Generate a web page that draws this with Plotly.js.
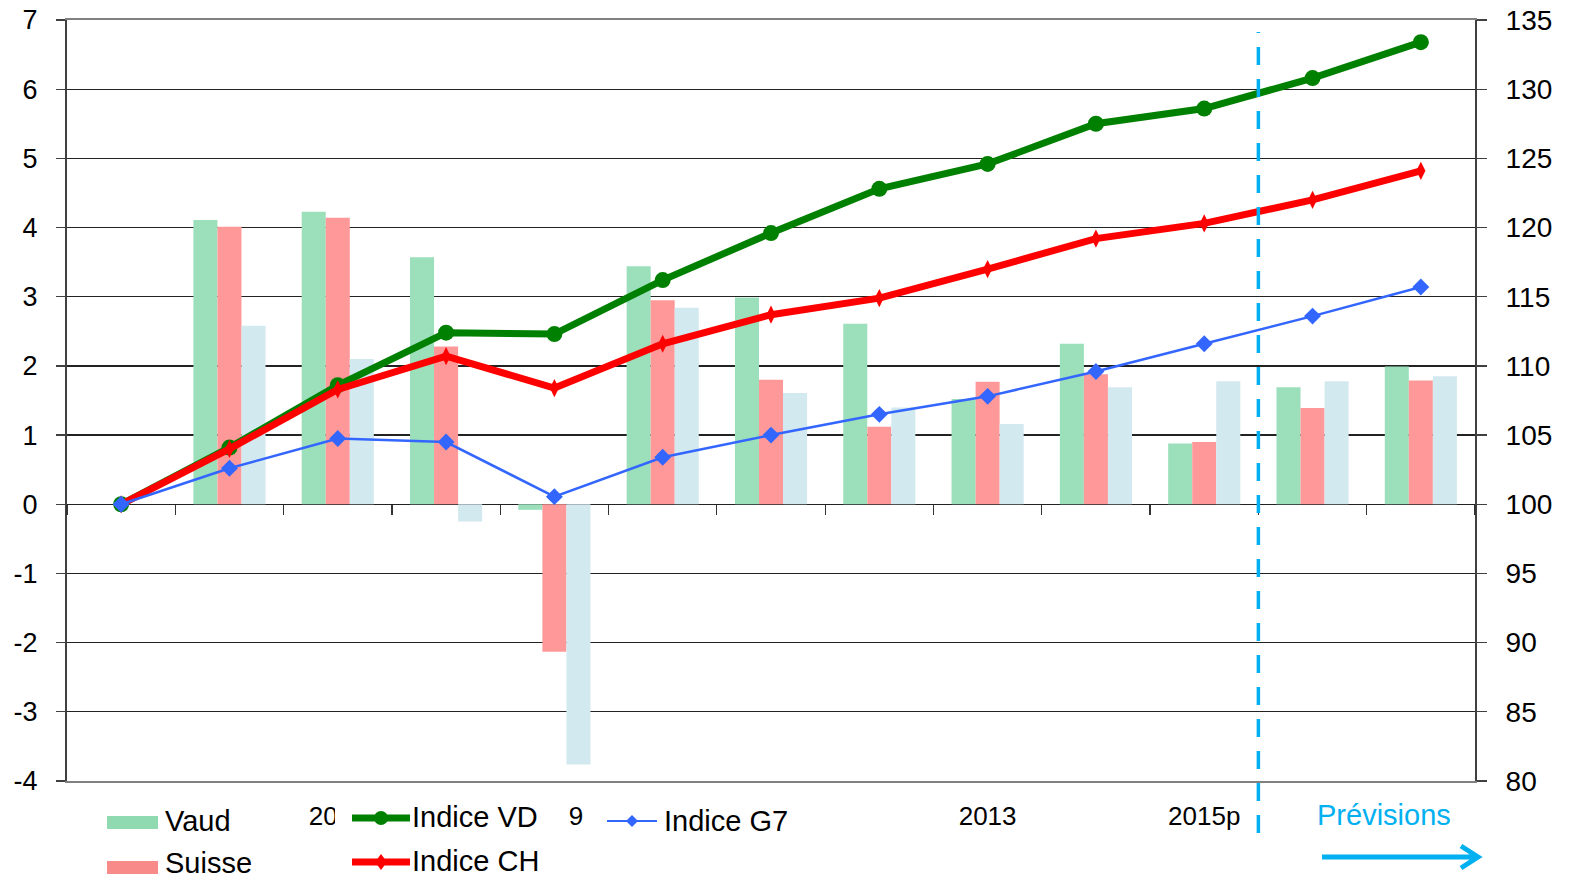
<!DOCTYPE html>
<html>
<head>
<meta charset="utf-8">
<script src="https://cdn.plot.ly/plotly-3.0.1.min.js"></script>
<style>html,body{margin:0;padding:0;background:#fff;}#chart{width:1569px;height:880px;}</style>
</head>
<body>
<div id="chart"></div>
<script>
// ---- data ----
const years = ['2005','2006','2007','2008','2009','2010','2011','2012','2013','2014','2015p','2016p','2017p'];
const labelYears = ['2007','2009','2013','2015p'];   // x labels visible (2007 and 2009 are partly hidden by the legend)
const yLeftTicks = [-4,-3,-2,-1,0,1,2,3,4,5,6,7];
const yLeftText  = ['-4','-3','-2','-1','0','1','2','3','4','5','6','7'];
const vaud   = [null, 4.11, 4.23, 3.57, -0.08, 3.44, 2.99, 2.61, 1.52, 2.32, 0.88, 1.69, 1.99];
const suisse = [null, 4.01, 4.14, 2.28, -2.13, 2.95, 1.80, 1.12, 1.77, 1.88, 0.90, 1.39, 1.79];
const g7     = [null, 2.58, 2.10, -0.25, -3.76, 2.84, 1.61, 1.40, 1.16, 1.69, 1.78, 1.78, 1.85];
const indiceVD = [100, 104.1, 108.6, 112.4, 112.3, 116.2, 119.6, 122.8, 124.6, 127.5, 128.6, 130.8, 133.4];
const indiceCH = [100, 104.0, 108.3, 110.7, 108.4, 111.6, 113.7, 114.9, 117.0, 119.2, 120.3, 122.0, 124.1];
const indiceG7 = [100, 102.6, 104.75, 104.5, 100.55, 103.4, 105.0, 106.5, 107.8, 109.6, 111.6, 113.6, 115.7];
const forecastBoundary = 10.5; // between 2015p and 2016p

// ---- geometry helpers (pixel -> paper) ----
const L = 67, R = 1475, T = 20, B = 781;
const px = x => (x - L) / (R - L);
const py = y => (B - y) / (B - T);

const FONT = 'Liberation Sans, Arial, sans-serif';
const cGreenBar = '#9BDFBB', cRedBar = '#FF9999', cBlueBar = '#D3E9F0';
const cVD = '#008000', cCH = '#FF0000', cG7 = '#3366FF', cPrev = '#00B0F0';

const traces = [
  {type:'bar', x:years, y:vaud, name:'Vaud', marker:{color:cGreenBar, line:{width:0}}, xaxis:'x', yaxis:'y'},
  {type:'bar', x:years, y:suisse, name:'Suisse', marker:{color:cRedBar, line:{width:0}}, xaxis:'x', yaxis:'y'},
  {type:'bar', x:years, y:g7, name:'G7', marker:{color:cBlueBar, line:{width:0}}, xaxis:'x', yaxis:'y'},
  {type:'scatter', mode:'lines+markers', x:years, y:indiceVD, name:'Indice VD', xaxis:'x2', yaxis:'y2',
   line:{color:cVD, width:7}, marker:{symbol:'circle', size:16, color:cVD}, cliponaxis:false},
  {type:'scatter', mode:'lines+markers', x:years, y:indiceCH, name:'Indice CH', xaxis:'x2', yaxis:'y2',
   line:{color:cCH, width:7}, marker:{symbol:'diamond-tall', size:13, color:cCH}, cliponaxis:false},
  {type:'scatter', mode:'lines+markers', x:years, y:indiceG7, name:'Indice G7', xaxis:'x2', yaxis:'y2',
   line:{color:cG7, width:2.5}, marker:{symbol:'diamond', size:13, color:cG7}, cliponaxis:false}
];

function rect(x0,y0,x1,y1,fill){
  return {type:'rect', xref:'paper', yref:'paper', x0:px(x0), x1:px(x1), y0:py(y1), y1:py(y0),
          fillcolor:fill, line:{width:0}, layer:'above'};
}
function hline(x0,x1,y,color,w){
  return {type:'line', xref:'paper', yref:'paper', x0:px(x0), x1:px(x1), y0:py(y), y1:py(y),
          line:{color:color, width:w}, layer:'above'};
}
function diamond(cx,cy,hw,hh,color){
  return {type:'path', xref:'paper', yref:'paper',
    path:`M${px(cx)},${py(cy-hh)} L${px(cx+hw)},${py(cy)} L${px(cx)},${py(cy+hh)} L${px(cx-hw)},${py(cy)} Z`,
    fillcolor:color, line:{color:color, width:0}, layer:'above'};
}

const shapes = [
  // white background of the "Indice VD / CH" legend block (hides part of the 2007 and 2009 labels)
  rect(335, 786, 569, 880, '#ffffff'),
  // forecast boundary
  {type:'line', xref:'x', yref:'paper', x0:forecastBoundary, x1:forecastBoundary, y0:py(833), y1:py(32),
   line:{color:cPrev, width:3.5, dash:'18px,14px'}, layer:'above'},
  // arrow
  {type:'path', xref:'paper', yref:'paper',
   path:`M${px(1322)},${py(857)} L${px(1476)},${py(857)} M${px(1461)},${py(846)} L${px(1478)},${py(857)} L${px(1461)},${py(868)}`,
   line:{color:cPrev, width:5}, layer:'above'},
  // legend symbols
  rect(107, 816, 158, 829, '#90DAB2'),
  rect(107, 861, 158, 874, '#F98A8A'),
  hline(352, 410, 818, cVD, 7),
  {type:'circle', xref:'paper', yref:'paper', x0:px(374), x1:px(388), y0:py(825), y1:py(811),
   fillcolor:cVD, line:{width:0}, layer:'above'},
  hline(352, 410, 862, cCH, 7),
  diamond(381, 862, 6, 8, cCH),
  hline(607, 657, 821, cG7, 2),
  diamond(632, 821, 6, 6, cG7)
];

function lbl(text, x, y, anchor, color){
  return {text:text, xref:'paper', yref:'paper', x:px(x), y:py(y), xanchor:anchor, yanchor:'middle',
          showarrow:false, font:{family:FONT, size:29, color:color||'#000'}};
}
const annotations = [
  lbl('Vaud', 163, 821, 'left'),
  lbl('Suisse', 163, 863, 'left'),
  lbl('Indice VD', 410, 817, 'left'),
  lbl('Indice CH', 410, 861, 'left'),
  lbl('Indice G7', 662, 821, 'left'),
  lbl('Prévisions', 1384, 815, 'center', cPrev)
];

const layout = {
  width:1569, height:880,
  margin:{l:L, r:1569-R, t:T, b:880-B, pad:0},
  paper_bgcolor:'#ffffff', plot_bgcolor:'#ffffff',
  font:{family:FONT, color:'#000'},
  showlegend:false,
  barmode:'group', bargap:0.334, bargroupgap:0,
  xaxis:{type:'category', categoryorder:'array', categoryarray:years, range:[-0.5,12.5],
         tickmode:'array', tickvals:labelYears, ticktext:labelYears, ticks:'',
         showline:true, mirror:true, linecolor:'#808080', linewidth:2,
         showgrid:false, zeroline:false, tickfont:{size:26, family:FONT}, ticklabelstandoff:11},
  xaxis2:{type:'category', categoryorder:'array', categoryarray:years, range:[-0.5,12.5],
          overlaying:'x', anchor:'free', position:4/11, side:'bottom',
          tickmode:'linear', tick0:0, dtick:1, tickson:'boundaries', ticks:'outside', ticklen:10,
          tickcolor:'#333', tickwidth:1.2, showticklabels:false, showgrid:false, zeroline:false, showline:false},
  yaxis:{range:[-4,7], tickmode:'array', tickvals:yLeftTicks, ticktext:yLeftText,
         showgrid:true, gridcolor:'#222', gridwidth:1.2,
         zeroline:false, showline:true, linecolor:'#404040', linewidth:2,
         ticks:'outside', ticklen:9, tickcolor:'#404040', tickwidth:1.2,
         tickfont:{size:27, family:FONT}, ticklabelstandoff:13},
  yaxis2:{range:[80,135], dtick:5, tick0:80, overlaying:'y', side:'right', anchor:'x',
          showgrid:false, zeroline:false, showline:true, linecolor:'#404040', linewidth:2,
          ticks:'outside', ticklen:10, tickcolor:'#404040', tickwidth:1.2,
          tickfont:{size:28, family:FONT}, ticklabelstandoff:13},
  shapes:shapes,
  annotations:annotations
};

Plotly.newPlot('chart', traces, layout, {displayModeBar:false, staticPlot:true});
</script>
</body>
</html>
